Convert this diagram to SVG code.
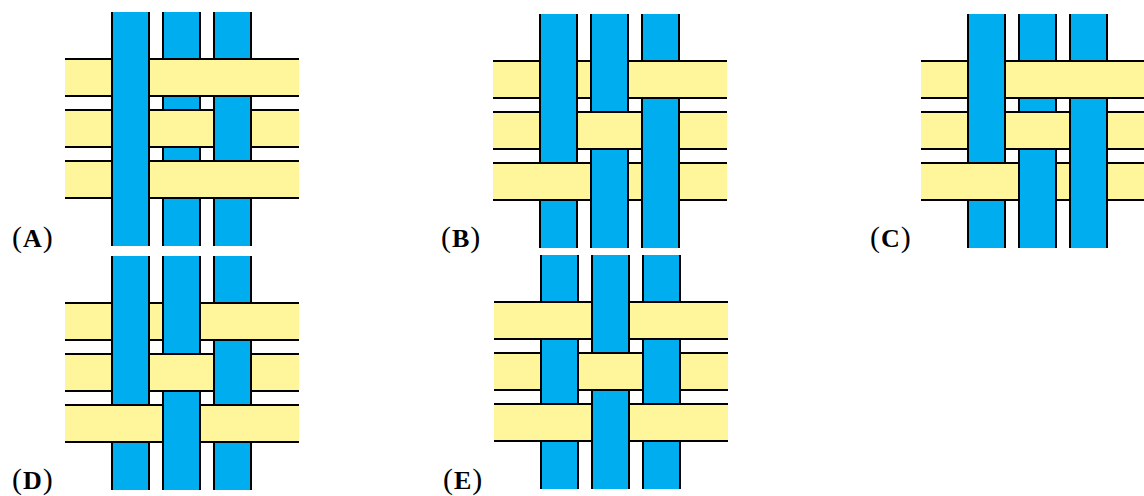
<svg xmlns="http://www.w3.org/2000/svg" xmlns:xlink="http://www.w3.org/1999/xlink" width="1144" height="496" viewBox="0 0 1144 496">
<style>
.hy{fill:#FFF59A}
.vb{fill:#00ADEE}
.ln{stroke:#000;stroke-width:2;fill:none}
.lbl{font-family:"Liberation Serif","DejaVu Serif",serif;font-size:26px;fill:#000;letter-spacing:1px}
.par{font-size:30px;font-weight:normal}
.let{font-weight:bold}
</style>
<defs>
<g id="hstrip"><rect class="hy" x="0" y="0" width="234" height="37"/><path class="ln" d="M0 0H234M0 37H234"/></g>
<g id="vstrip"><rect class="vb" x="0" y="0" width="37" height="234"/><path class="ln" d="M0 0V234M37 0V234"/></g>
<g id="patch"><rect class="hy" x="-3" y="0" width="43" height="37"/><path class="ln" d="M-3 0H40M-3 37H40"/></g>
</defs>
<g id="panelA" transform="translate(65,12)">
<use xlink:href="#hstrip" x="0" y="47"/><use xlink:href="#hstrip" x="0" y="98"/><use xlink:href="#hstrip" x="0" y="149"/>
<use xlink:href="#vstrip" x="47" y="0"/><use xlink:href="#vstrip" x="98" y="0"/><use xlink:href="#vstrip" x="149" y="0"/>
<use xlink:href="#patch" x="98" y="47"/><use xlink:href="#patch" x="149" y="47"/>
<use xlink:href="#patch" x="98" y="98"/>
<use xlink:href="#patch" x="98" y="149"/><use xlink:href="#patch" x="149" y="149"/>
</g>
<g id="panelB" transform="translate(493,14)">
<use xlink:href="#hstrip" x="0" y="47"/><use xlink:href="#hstrip" x="0" y="98"/><use xlink:href="#hstrip" x="0" y="149"/>
<use xlink:href="#vstrip" x="47" y="0"/><use xlink:href="#vstrip" x="98" y="0"/><use xlink:href="#vstrip" x="149" y="0"/>
<use xlink:href="#patch" x="149" y="47"/>
<use xlink:href="#patch" x="98" y="98"/>
<use xlink:href="#patch" x="47" y="149"/>
</g>
<g id="panelC" transform="translate(921,14)">
<use xlink:href="#hstrip" x="0" y="47"/><use xlink:href="#hstrip" x="0" y="98"/><use xlink:href="#hstrip" x="0" y="149"/>
<use xlink:href="#vstrip" x="47" y="0"/><use xlink:href="#vstrip" x="98" y="0"/><use xlink:href="#vstrip" x="149" y="0"/>
<use xlink:href="#patch" x="98" y="47"/><use xlink:href="#patch" x="149" y="47"/>
<use xlink:href="#patch" x="98" y="98"/>
<use xlink:href="#patch" x="47" y="149"/>
</g>
<g id="panelD" transform="translate(65,256)">
<use xlink:href="#hstrip" x="0" y="47"/><use xlink:href="#hstrip" x="0" y="98"/><use xlink:href="#hstrip" x="0" y="149"/>
<use xlink:href="#vstrip" x="47" y="0"/><use xlink:href="#vstrip" x="98" y="0"/><use xlink:href="#vstrip" x="149" y="0"/>
<use xlink:href="#patch" x="149" y="47"/>
<use xlink:href="#patch" x="98" y="98"/>
<use xlink:href="#patch" x="47" y="149"/><use xlink:href="#patch" x="149" y="149"/>
</g>
<g id="panelE" transform="translate(494,255)">
<use xlink:href="#hstrip" x="0" y="47"/><use xlink:href="#hstrip" x="0" y="98"/><use xlink:href="#hstrip" x="0" y="149"/>
<use xlink:href="#vstrip" x="47" y="0"/><use xlink:href="#vstrip" x="98" y="0"/><use xlink:href="#vstrip" x="149" y="0"/>
<use xlink:href="#patch" x="47" y="47"/><use xlink:href="#patch" x="149" y="47"/>
<use xlink:href="#patch" x="98" y="98"/>
<use xlink:href="#patch" x="47" y="149"/><use xlink:href="#patch" x="149" y="149"/>
</g>
<g id="labels">
<text class="lbl" x="12" y="246.5"><tspan class="par">(</tspan><tspan class="let">A</tspan><tspan class="par">)</tspan></text>
<text class="lbl" x="441" y="247"><tspan class="par">(</tspan><tspan class="let">B</tspan><tspan class="par">)</tspan></text>
<text class="lbl" x="870" y="247"><tspan class="par">(</tspan><tspan class="let">C</tspan><tspan class="par">)</tspan></text>
<text class="lbl" x="12" y="489"><tspan class="par">(</tspan><tspan class="let">D</tspan><tspan class="par">)</tspan></text>
<text class="lbl" x="443" y="489"><tspan class="par">(</tspan><tspan class="let">E</tspan><tspan class="par">)</tspan></text>
</g>
</svg>
